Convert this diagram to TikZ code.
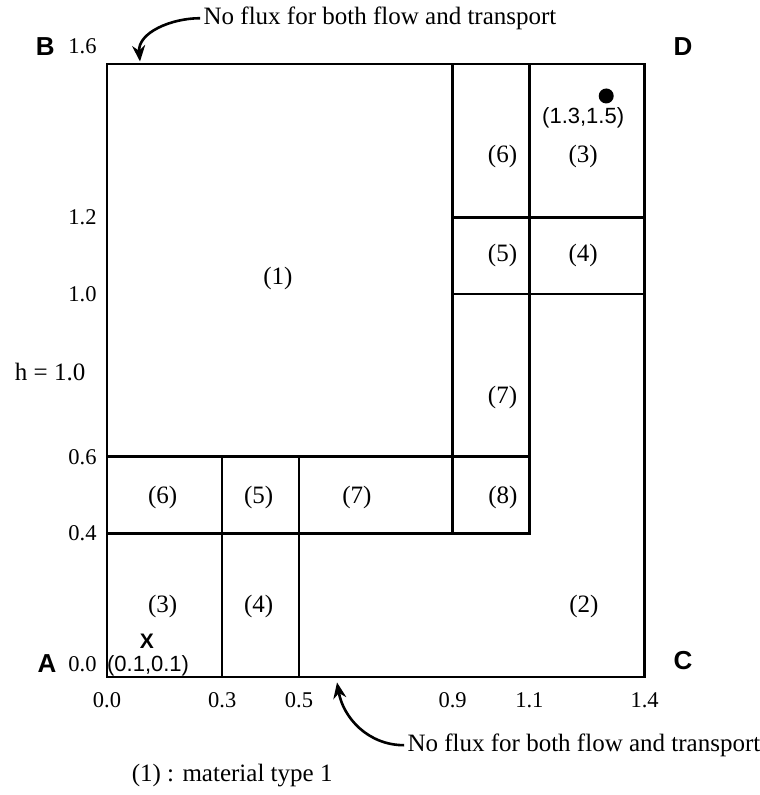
\documentclass[tikz,border=0pt]{standalone}
\usepackage{fontspec}
\setmainfont{Liberation Serif}
\setsansfont{Liberation Sans}
\usetikzlibrary{arrows.meta}

\begin{document}
\begin{tikzpicture}[x=384pt, y=383pt,
    wall/.style={line width=2.6pt},
    zone/.style={font=\fontsize{25}{27}\selectfont},
    tick/.style={font=\fontsize{22.5}{24}\selectfont},
    corner/.style={font=\sffamily\bfseries\fontsize{26}{28}\selectfont},
    spot/.style={font=\sffamily\fontsize{22}{24}\selectfont},
    flux/.style={-{Stealth[length=16pt,width=13pt]}, line width=2.6pt}]
    \useasboundingbox (-0.2786,-0.308) rectangle (1.698,1.7676);

    % Draw the domain and the material blocks
    \draw[wall] (0,0) rectangle (1.4,1.6);
    \draw[wall] (0,0.575) -- (1.1,0.575);
    \draw[wall] (0,0.375) -- (1.1,0.375) -- (1.1,1.6);
    \draw[wall] (0.9,0.375) -- (0.9,1.6);
    \draw[wall] (0.9,1.0) -- (1.4,1.0);
    \draw[wall] (0.9,1.2) -- (1.4,1.2);
    \draw[wall] (0.3,0) -- (0.3,0.575);
    \draw[wall] (0.5,0) -- (0.5,0.575);

    % Material numbers
    \node[zone] (m1) at (0.445,1.04) {(1)};
    \node[zone] (m6a) at (1.03,1.36) {(6)};
    \node[zone] (m3a) at (1.24,1.36) {(3)};
    \node[zone] (m5a) at (1.03,1.10) {(5)};
    \node[zone] (m4a) at (1.24,1.10) {(4)};
    \node[zone] (m7a) at (1.03,0.73) {(7)};
    \node[zone] (m6b) at (0.145,0.47) {(6)};
    \node[zone] (m5b) at (0.395,0.47) {(5)};
    \node[zone] (m7b) at (0.651,0.47) {(7)};
    \node[zone] (m8) at (1.031,0.47) {(8)};
    \node[zone] (m3b) at (0.145,0.183) {(3)};
    \node[zone] (m4b) at (0.395,0.183) {(4)};
    \node[zone] (m2) at (1.242,0.183) {(2)};

    % Source and observation points
    \fill (1.3,1.517) circle (7.5pt);
    \node[spot] (obs) at (1.24,1.46) {(1.3,1.5)};
    \node[font=\sffamily\bfseries\fontsize{21}{23}\selectfont, inner sep=0pt] (src) at (0.104,0.093) {X};
    \node[spot, inner sep=1pt] (srclab) at (0.107,0.028) {(0.1,0.1)};

    % Corners
    \node[corner] (A) at (-0.156,0.034) {A};
    \node[corner] (B) at (-0.161,1.647) {B};
    \node[corner] (C) at (1.500,0.044) {C};
    \node[corner] (D) at (1.500,1.647) {D};

    % Axis values
    \foreach \x in {0.0,0.3,0.5,0.9,1.1,1.4}
        \node[tick] (x\x) at (\x,-0.06) {\x};
    \node[tick, anchor=east] (y0.4) at (-0.018,0.375) {0.4};
    \node[tick, anchor=east] (y0.6) at (-0.018,0.575) {0.6};
    \node[tick, anchor=east] (y1.0) at (-0.018,1.0) {1.0};
    \node[tick, anchor=east] (y1.2) at (-0.018,1.2) {1.2};
    \node[tick, anchor=east] (y1.6) at (-0.018,1.647) {1.6};
    \node[tick, anchor=east] (y0.0) at (-0.018,0.034) {0.0};
    \node[zone] (head) at (-0.148,0.796) {h = 1.0};

    % Boundary conditions
    \node[zone] (topnote) at (0.711,1.72) {No flux for both flow and transport};
    \coordinate (toptip) at (0.086,1.607);
    \draw[flux] (topnote.west) to[out=180,in=95] (toptip);
    \node[zone] (botnote) at (1.242,-0.178) {No flux for both flow and transport};
    \coordinate (bottip) at (0.599,-0.014);
    \draw[flux] (botnote.west) to[out=180,in=-80] (bottip);

    \node[zone] (legend) at (0.326,-0.256) {(1) : material type 1};
\end{tikzpicture}
\end{document}
